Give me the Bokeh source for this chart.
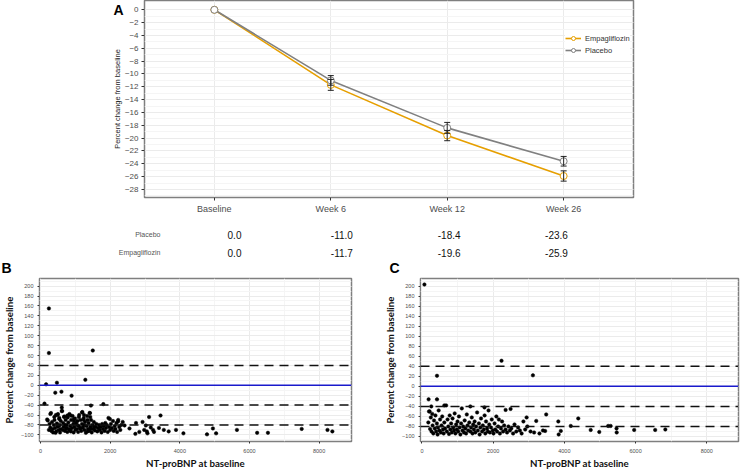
from bokeh.plotting import figure
from bokeh.layouts import column, row
from bokeh.models import (Range1d, FixedTicker, ColumnDataSource, Span, LinearAxis,
                          Legend, LegendItem, Whisker, TeeHead)
from bokeh.core.properties import value
from bokeh.embed import file_html
from bokeh.resources import INLINE

# ---------------- data ----------------
weeks = ["Baseline", "Week 6", "Week 12", "Week 26"]
placebo_mean = [0.0, -11.0, -18.4, -23.6]
empa_mean = [0.0, -11.7, -19.6, -25.9]
placebo_err = [0.0, 0.75, 0.85, 0.75]
empa_err = [0.0, 0.85, 0.8, 0.8]

# panel B: NT-proBNP at baseline vs percent change
b_x = [240, 240, 1500, 160, 470, 1286, 113, 423, 600, 892, 1446, 1803, 610, 610,
       190, 240, 260, 280, 300, 310, 330, 350, 360, 380, 400, 420, 440, 450, 470, 490,
       500, 520, 540, 550, 560, 580, 620, 640, 650, 660, 680, 700, 720, 730,
       750, 770, 780, 800, 820, 830, 850, 870, 880, 900, 920, 940, 950, 970, 990, 1000,
       1020, 1040, 1060, 1080, 1100, 1110, 1130, 1150, 1170, 1190, 1200, 1220, 1240, 1260,
       1280, 1300, 1320, 1340, 1360, 1380, 1400, 1420, 1430, 1450, 1470, 1490, 1510, 1530,
       1560, 1580, 1600, 1630, 1650, 1680, 1700, 1720, 1750, 1770, 1790, 1810, 1840, 1860,
       1880, 1900, 1930, 1950, 1970, 2000, 2020, 2050, 2080, 2100, 2130, 2150, 2180, 2200,
       2230, 2260, 2290, 2320, 2360,
       430, 520, 580, 700, 760, 860, 960, 1050, 1160, 1250, 1350, 1440, 1540, 1350, 1250,
       282, 488, 770, 1193, 1409, 207, 395, 535, 676, 864, 958, 1099, 1240, 1427, 1991, 2225,
       2413, 2554, 2723, 2742, 2836, 2930, 2977, 3024, 3052, 3070, 3117, 3165, 3230, 3258,
       3400, 3446, 3540, 3680, 3890, 4103, 4780, 4950, 5042,
       5640, 6220, 6530, 7500, 8240, 8380]
b_y = [155, 65, 70, 2, 5, 11, -37, -15, -13, -21, -41, -38, -45, -52,
       -69, -90, -78, -85, -56, -92, -74, -88, -95, -80, -70, -86, -60, -93, -77, -83,
       -58, -90, -66, -80, -95, -72, -52, -90, -76, -84, -63, -92, -70, -87,
       -80, -94, -65, -75, -89, -58, -82, -93, -70, -86, -62, -78, -95, -84, -67, -90,
       -76, -88, -72, -94, -82, -60, -87, -70, -92, -78, -54, -85, -66, -90,
       -74, -96, -82, -62, -88, -76, -92, -56, -84, -70, -95, -80, -88, -74,
       -91, -84, -78, -93, -86, -80, -90, -84, -95, -78, -88, -82, -92, -76,
       -86, -80, -94, -66, -84, -90, -78, -86, -72, -92, -82, -88, -76, -94,
       -70, -84, -90, -80, -74,
       -96, -82, -88, -80, -86, -91, -72, -80, -86, -80, -93, -88, -84, -70, -60,
       -58, -60, -61, -55, -56, -71, -64, -68, -64, -61, -68, -64, -70, -64, -68, -73,
       -81, -87, -98, -76, -94, -74, -90, -81, -93, -97, -64, -85, -90, -94,
       -86, -61, -90, -93, -90, -97, -99, -87, -97,
       -90, -96, -96, -88, -90, -93]

# panel C
c_x = [70, 2235, 423, 3117, 188, 423, 263, 216, 630, 1360, 1756, 2350, 2490,
       2940, 3210, 3490, 3830, 4390, 4180, 3840, 3900, 3460, 5230, 5300, 5465, 5470,
       4740, 4980, 5960, 6550, 6835,
       180, 200, 230, 250, 270, 290, 300, 320, 340, 360, 380, 400, 420, 440, 450, 470,
       490, 510, 530, 550, 570, 590, 610, 630, 650, 680, 700, 720, 740, 760, 780, 800,
       820, 840, 860, 880, 900, 920, 940, 960, 980, 1000, 1020, 1040, 1060, 1080, 1100,
       1120, 1140, 1160, 1180, 1200, 1220, 1240, 1260, 1280, 1300, 1330, 1360, 1380, 1400,
       1420, 1440, 1460, 1480, 1500, 1520, 1550, 1570, 1600, 1620, 1640, 1660, 1690, 1710,
       1740, 1760, 1780, 1800, 1830, 1850, 1870, 1890, 1910, 1940, 1960, 1990, 2010, 2040,
       2060, 2090, 2110, 2140, 2160, 2190, 2220, 2250, 2280, 2310, 2350, 2390, 2430, 2470,
       2510, 2560, 2600, 2650, 2700, 2750, 2800, 2850, 2900, 2960, 3050, 3150, 3300, 3400]
c_y = [203, 51, 21, 22, -26, -26, -40, -50, -38, -40, -42, -47, -45,
       -62, -69, -56, -70, -64, -79, -96, -89, -89, -79, -79, -84, -92,
       -87, -91, -87, -87, -86,
       -72, -50, -85, -62, -90, -55, -78, -94, -68, -84, -58, -90, -74, -96, -82, -48,
       -88, -66, -92, -78, -60, -86, -94, -72, -84, -38, -90, -66, -80, -95, -58, -86,
       -74, -92, -64, -82, -88, -54, -94, -76, -86, -70, -90, -60, -82, -96, -74,
       -44, -88, -80, -92, -68, -84, -94, -56, -78, -88, -72, -90, -82, -62,
       -94, -76, -86, -70, -92, -80, -52, -88, -74, -96, -82, -64, -90, -78,
       -86, -58, -94, -70, -84, -90, -48, -76, -92, -82, -66, -88, -94, -74,
       -86, -60, -90, -80, -66, -94, -84, -70, -90, -78, -86, -92, -80, -88,
       -84, -94, -76, -90, -82, -88, -94, -70, -86, -80, -90, -92, -94, -88]

ref_dashed = [40, -40, -80]
ref_solid = [0]

# ---------------- styling helpers ----------------
SANS = "Liberation Sans"
ORANGE = "#E69F00"
GREY = "#808080"
FRAME = "#7f7f7f"
TICK_TXT = "#4d4d4d"


def style_common(p):
    p.outline_line_color = FRAME
    p.outline_line_width = 1.5
    p.background_fill_color = "white"
    p.border_fill_color = "white"
    p.frame_align = False
    for ax in p.axis:
        ax.axis_line_color = None
        ax.major_tick_line_color = "#333333"
        ax.minor_tick_line_color = None
        ax.major_tick_in = 0
        ax.axis_label_text_font_style = "normal"


# ---------------- panel A ----------------
yA = (-29.25, 1.45)
pA = figure(width=740, height=220, x_range=Range1d(-0.6, 3.6), y_range=Range1d(*yA),
            output_backend="svg", toolbar_location=None,
            min_border_left=144, min_border_right=107, min_border_top=0, min_border_bottom=23)
style_common(pA)
xi = list(range(len(weeks)))
pA.xaxis.ticker = FixedTicker(ticks=xi)
pA.xaxis.major_label_overrides = {i: w for i, w in enumerate(weeks)}
pA.yaxis.ticker = FixedTicker(ticks=list(range(0, -29, -2)), minor_ticks=list(range(0, -30, -1)))
pA.xaxis.major_label_text_font = SANS
pA.xaxis.major_label_text_font_size = "9px"
pA.xaxis.major_label_text_color = TICK_TXT
pA.xaxis.major_tick_out = 3
pA.xaxis.major_label_standoff = 3
pA.yaxis.major_label_text_font = SANS
pA.yaxis.major_label_text_font_size = "8px"
pA.yaxis.major_label_text_color = TICK_TXT
pA.yaxis.major_tick_out = 3
pA.yaxis.major_label_standoff = 2
pA.yaxis.axis_label = "Percent change from baseline"
pA.yaxis.axis_label_text_font = SANS
pA.yaxis.axis_label_text_font_size = "7.5px"
pA.yaxis.axis_label_text_color = "#222222"
pA.yaxis.axis_label_standoff = 0
pA.xgrid.grid_line_color = "#ebebeb"
pA.ygrid.grid_line_color = "#ebebeb"
pA.ygrid.minor_grid_line_color = "#f5f5f5"

# panel letter "A": an outer left axis carrying one label near the top edge
letter_axis = LinearAxis(ticker=FixedTicker(ticks=[0]), major_label_overrides={0: "A"},
                         axis_line_color=None, major_tick_line_color=None,
                         minor_tick_line_color=None, major_tick_out=0, major_tick_in=0,
                         major_label_standoff=-14, major_label_text_font=SANS,
                         major_label_text_font_size="14px",
                         major_label_text_font_style="bold", major_label_text_color="black")
pA.add_layout(letter_axis, "left")

srcA = ColumnDataSource(dict(x=xi, pl=placebo_mean, em=empa_mean))
err_idx = [i for i in xi if i > 0]
srcE = ColumnDataSource(dict(
    x=err_idx,
    pl_lo=[placebo_mean[i] - placebo_err[i] for i in err_idx],
    pl_hi=[placebo_mean[i] + placebo_err[i] for i in err_idx],
    em_lo=[empa_mean[i] - empa_err[i] for i in err_idx],
    em_hi=[empa_mean[i] + empa_err[i] for i in err_idx]))

line_e = pA.line("x", "em", source=srcA, line_color=ORANGE, line_width=1.6)
line_p = pA.line("x", "pl", source=srcA, line_color=GREY, line_width=1.6)
for lo, hi in (("em_lo", "em_hi"), ("pl_lo", "pl_hi")):
    pA.add_layout(Whisker(source=srcE, base="x", lower=lo, upper=hi, dimension="height",
                          line_color="#222222", line_width=1, level="glyph",
                          upper_head=TeeHead(size=6, line_color="#222222", line_width=1),
                          lower_head=TeeHead(size=6, line_color="#222222", line_width=1)))
circ_e = pA.scatter("x", "em", source=srcA, marker="circle", size=7, fill_color="white",
                    line_color=ORANGE, line_width=1)
circ_p = pA.scatter("x", "pl", source=srcA, marker="circle", size=7, fill_color="white",
                    line_color=GREY, line_width=1)
legA = Legend(items=[LegendItem(label="Empagliflozin", renderers=[line_e, circ_e]),
                     LegendItem(label="Placebo", renderers=[line_p, circ_p])],
              location=(421, 142), label_text_font=SANS, label_text_font_size="7.5px",
              label_text_color="#333333", glyph_width=16, glyph_height=10, label_height=10,
              spacing=2, padding=4, margin=0, label_standoff=4, border_line_color=None,
              background_fill_color="white", background_fill_alpha=1.0)
pA.add_layout(legA, "center")

# ---------------- table under panel A ----------------
col_step = 107.33
pT = figure(width=740, height=38, x_range=Range1d(-234 / col_step, (740 - 234) / col_step),
            y_range=Range1d(start=(258 - 234) / 18, end=(220 - 234) / 18),
            x_axis_type=None, y_axis_type=None, output_backend="svg", toolbar_location=None,
            min_border_left=0, min_border_right=0, min_border_top=0, min_border_bottom=0)
pT.frame_align = False
pT.outline_line_color = None
pT.grid.visible = False
rows = [("Placebo", placebo_mean), ("Empagliflozin", empa_mean)]
tx, ty, tt = [], [], []
for r, (name, vals) in enumerate(rows):
    for i, v in enumerate(vals):
        tx.append(i)
        ty.append(r)
        tt.append(f"{v:.1f}")
pT.text(x=tx, y=ty, text=tt, text_align="center", text_baseline="middle",
        text_font=value(SANS), text_font_size="10px", text_color="#111111")
pT.text(x=[-0.69] * len(rows), y=list(range(len(rows))), text=[r[0] for r in rows],
        text_align="right", text_baseline="middle", text_font=value(SANS),
        text_font_size="7px", text_color="#555555")


# ---------------- panels B and C ----------------
def scatter_panel(width, xr, yr, bl, br, xs, ys, letter, letter_dx):
    p = figure(width=width, height=213, x_range=Range1d(*xr), y_range=Range1d(*yr),
               output_backend="svg", toolbar_location=None,
               min_border_left=bl, min_border_right=br, min_border_top=18, min_border_bottom=23)
    style_common(p)
    p.title.text = letter
    p.title.align = "left"
    p.title.offset = letter_dx
    p.title.standoff = 2
    p.title.vertical_align = "top"
    p.title.text_font = SANS
    p.title.text_font_size = "14px"
    p.title.text_font_style = "bold"
    p.title.text_color = "black"
    p.xaxis.ticker = FixedTicker(ticks=[0, 2000, 4000, 6000, 8000],
                                 minor_ticks=[1000, 3000, 5000, 7000])
    p.yaxis.ticker = FixedTicker(ticks=list(range(-100, 201, 20)),
                                 minor_ticks=list(range(-110, 211, 10)))
    for ax in p.axis:
        ax.major_label_text_font = SANS
        ax.major_label_text_font_size = "5.5px"
        ax.major_label_text_color = TICK_TXT
        ax.major_tick_out = 2
        ax.major_label_standoff = 2
        ax.axis_label_text_font = "Lato"
        ax.axis_label_text_font_style = "bold"
        ax.axis_label_text_font_size = "9.7px"
        ax.axis_label_text_color = "#111111"
    p.xaxis.major_label_standoff = 3
    p.xaxis.axis_label_standoff = 1
    p.yaxis.axis_label_standoff = 3
    p.xaxis.axis_label = "NT-proBNP at baseline"
    p.yaxis.axis_label = "Percent change from baseline"
    p.xgrid.grid_line_color = "#ebebeb"
    p.ygrid.grid_line_color = "#ebebeb"
    p.xgrid.minor_grid_line_color = "#f5f5f5"
    p.ygrid.minor_grid_line_color = "#f5f5f5"
    for v in ref_solid:
        p.add_layout(Span(location=v, dimension="width", line_color="#1a1acc", line_width=1.5))
    for v in ref_dashed:
        p.add_layout(Span(location=v, dimension="width", line_color="#111111",
                          line_width=1.5, line_dash="9 6"))
    p.scatter(xs, ys, marker="circle", size=3.5, fill_color="black", line_color="black",
              line_width=0.5)
    return p


pB = scatter_panel(375, (-30, 8930), (-113.4, 215.3), 35, 24, b_x, b_y, "B", -38)
pC = scatter_panel(365, (-40, 8890), (-110, 215), 45, 2, c_x, c_y, "C", -31)

root = column(pA, pT, row(pB, pC, spacing=0), spacing=0)

open("out.html", "w").write(file_html(root, INLINE))
